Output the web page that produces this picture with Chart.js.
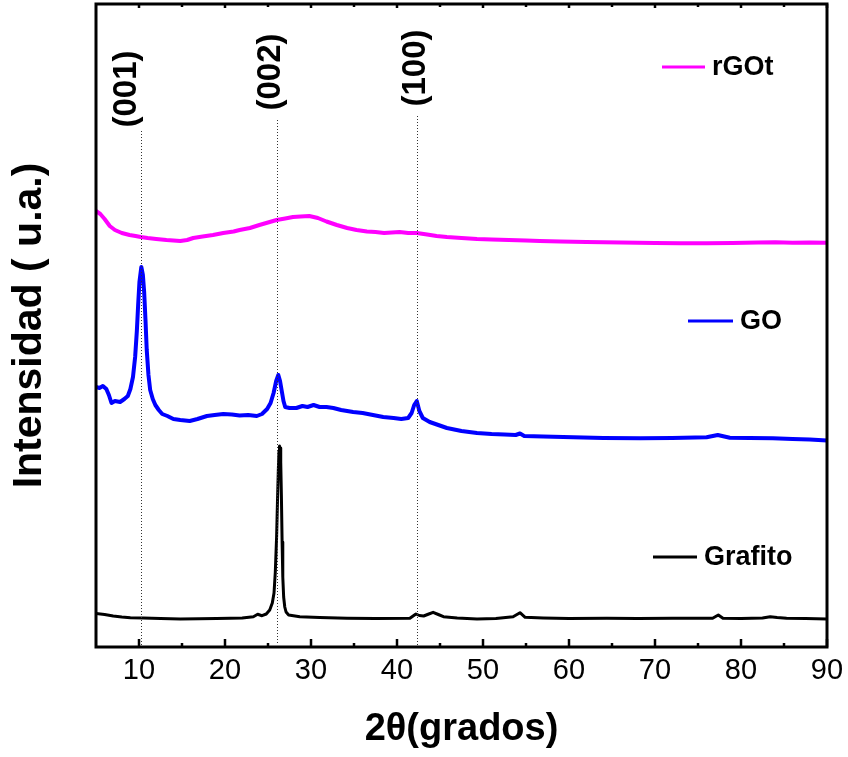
<!DOCTYPE html>
<html><head><meta charset="utf-8">
<script src="https://cdn.jsdelivr.net/npm/chart.js@4"></script>
<style>html,body{margin:0;padding:0;background:#fff}canvas{display:block}</style>
</head><body>
<canvas id="c" width="848" height="757"></canvas>
<script>
// ---------- data ----------
const X_TICKS = [10, 20, 30, 40, 50, 60, 70, 80, 90];
const X_MINOR = [15, 25, 35, 45, 55, 65, 75, 85];
const PEAK_LABELS = ['(001)', '(002)', '(100)'];
const PEAK_POS = [10.27, 26.05, 42.3];
const SERIES_NAMES = ['Grafito', 'GO', 'rGOt'];
const X_TITLE = '2θ(grados)';
const Y_TITLE = 'Intensidad ( u.a.)';

const grafitoX = [5.0, 6.0, 7.0, 8.0, 9.0, 10.5, 12.5, 14.8, 17.0, 19.0, 20.6, 22.0, 23.3, 23.8, 24.3, 24.8, 25.2, 25.5, 25.7, 25.85, 26.0, 26.1, 26.2, 26.28, 26.34, 26.4, 26.48, 26.56, 26.64, 26.72, 26.82, 26.95, 27.1, 27.4, 28.7, 31.0, 34.2, 37.5, 41.5, 42.2, 42.6, 43.1, 43.7, 44.2, 44.8, 45.4, 47.0, 49.3, 51.5, 53.5, 54.3, 54.9, 57.0, 60.0, 64.4, 68.0, 72.0, 76.7, 77.36, 77.9, 80.0, 82.5, 83.4, 84.2, 85.3, 87.5, 90.0];
const grafitoY = [33.5, 32.5, 31, 30, 29.3, 29, 28.5, 28, 28.3, 28.5, 28.7, 29, 30.3, 32.7, 31.3, 33, 37, 44, 54, 75, 110, 145, 177, 196, 201, 199, 185, 150, 105, 70, 50, 40, 35, 32, 30.3, 29.5, 28.7, 28.5, 28.7, 33, 31.5, 31, 33, 34.7, 32.5, 30.3, 29, 28, 28.5, 30.3, 34.3, 29.7, 29, 28.5, 28.7, 28.5, 28.7, 28.7, 32, 28.7, 28.5, 29, 30.3, 29.5, 28.7, 28.5, 28];

const goX = [5.0, 5.4, 5.8, 6.2, 6.5, 6.8, 7.2, 7.8, 8.3, 8.7, 9.0, 9.3, 9.55, 9.75, 9.9, 10.05, 10.27, 10.45, 10.6, 10.75, 10.9, 11.1, 11.3, 11.6, 11.9, 12.3, 12.7, 13.3, 14.0, 14.8, 15.9, 16.8, 17.9, 18.8, 19.8, 20.8, 21.7, 22.7, 23.7, 24.3, 24.9, 25.3, 25.65, 25.95, 26.2, 26.4, 26.6, 26.8, 27.0, 27.5, 28.3, 29.0, 29.6, 30.3, 31.0, 31.8, 32.6, 33.5, 34.9, 36.0, 37.2, 38.4, 39.6, 40.5, 41.3, 41.7, 42.0, 42.3, 42.6, 43.0, 43.8, 44.8, 45.8, 47.5, 49.3, 51.0, 52.5, 53.8, 54.3, 54.8, 57.0, 60.5, 64.0, 68.3, 72.0, 76.0, 77.3, 78.7, 81.0, 83.7, 86.0, 88.0, 90.0];
const goY = [260, 259, 261, 258, 252, 244, 246, 245, 248, 251, 258, 270, 290, 316, 342, 365, 380, 372, 355, 328, 297, 272, 257, 248, 242, 237, 233, 231, 228, 227, 226, 228, 231, 232, 233, 232.5, 231.5, 232, 231, 233, 238, 244, 254, 266, 272, 266, 256, 246, 240, 239, 239, 241, 240, 242, 240, 240, 239, 237, 235, 234, 232, 230, 229, 228, 229, 234, 242, 246, 236, 229, 225, 222, 219, 216, 214, 213, 212.5, 212, 213.5, 211, 210.5, 209.7, 209, 208.7, 209, 209.7, 212, 209.3, 209, 208.7, 208, 207.5, 206.5];

const rgoX = [5.0, 5.5, 6.0, 6.6, 7.2, 8.0, 8.9, 9.6, 10.2, 11.0, 12.0, 13.2, 14.0, 14.8, 15.6, 16.3, 17.4, 18.6, 19.8, 21.0, 21.7, 22.9, 24.0, 25.0, 26.0, 27.0, 27.9, 28.8, 29.8, 30.8, 31.8, 33.0, 34.2, 35.3, 36.5, 37.5, 38.5, 39.4, 40.3, 41.3, 42.3, 43.5, 44.6, 45.8, 47.5, 49.3, 51.0, 53.0, 55.0, 56.6, 59.0, 62.0, 66.0, 70.0, 73.0, 76.0, 79.0, 82.0, 84.0, 86.0, 88.0, 90.0];
const rgoY = [436, 433, 428, 421, 417, 414, 412, 411, 410, 409, 408, 407, 406.5, 406, 407, 409, 410.5, 412, 414, 415.5, 417, 419, 422, 424.5, 427, 428.5, 430, 430.5, 431, 429, 425.5, 422, 419, 417, 415.5, 415, 414, 414.5, 415, 414, 414, 412.5, 411, 410, 409, 408, 407.5, 407, 406.5, 406, 405.5, 405, 404.5, 404, 403.7, 403.7, 404, 404.5, 404.7, 404.3, 404.5, 404.3];

// ---------- style / layout ----------
const COLORS = ['#000000', '#0000ff', '#ff00ff'];
const WIDTHS = [3, 4, 4];
const FONT = '"Liberation Sans", Arial, Helvetica, sans-serif';
const LEGEND_LAYOUT = [{x1: 653, x2: 697, y: 557}, {x1: 688, x2: 733, y: 321}, {x1: 662, x2: 705, y: 67}];
const LABEL_LAYOUT = [{dx: -14, cy: 89, lineTop: 131}, {dx: -6, cy: 72, lineTop: 120}, {dx: -1, cy: 68, lineTop: 116}];

const toPts = (xs, ys) => xs.map((x, i) => ({x, y: ys[i]}));
const seriesData = [toPts(grafitoX, grafitoY), toPts(goX, goY), toPts(rgoX, rgoY)];

const decor = {
  id: 'decor',
  afterDatasetsDraw(chart) {
    const {ctx, chartArea: a, scales: {x}} = chart;
    ctx.save();
    ctx.strokeStyle = '#333';
    ctx.lineWidth = 1;
    ctx.setLineDash([1, 2]);
    PEAK_POS.forEach((p, i) => {
      const px = Math.round(x.getPixelForValue(p)) + 0.5;
      ctx.beginPath();
      ctx.moveTo(px, LABEL_LAYOUT[i].lineTop);
      ctx.lineTo(px, a.bottom - 2);
      ctx.stroke();
    });
    ctx.setLineDash([]);
    ctx.fillStyle = '#000';
    ctx.font = 'bold 33px ' + FONT;
    ctx.textAlign = 'center';
    ctx.textBaseline = 'middle';
    PEAK_LABELS.forEach((t, i) => {
      const px = x.getPixelForValue(PEAK_POS[i]) + LABEL_LAYOUT[i].dx;
      ctx.save();
      ctx.translate(px, LABEL_LAYOUT[i].cy);
      ctx.rotate(-Math.PI / 2);
      ctx.fillText(t, 0, 0);
      ctx.restore();
    });
    ctx.strokeStyle = '#000';
    ctx.lineWidth = 3;
    ctx.strokeRect(a.left, a.top, a.right - a.left, a.bottom - a.top);
    ctx.lineWidth = 2.5;
    const tick = (v, len, top) => {
      const px = x.getPixelForValue(v);
      ctx.beginPath();
      if (top) { ctx.moveTo(px, a.top); ctx.lineTo(px, a.top + len); }
      else { ctx.moveTo(px, a.bottom); ctx.lineTo(px, a.bottom - len); }
      ctx.stroke();
    };
    X_TICKS.forEach(v => { tick(v, 8, false); tick(v, 4, true); });
    X_MINOR.forEach(v => { tick(v, 4, false); tick(v, 3, true); });
    ctx.font = 'bold 27px ' + FONT;
    ctx.textAlign = 'left';
    ctx.textBaseline = 'middle';
    SERIES_NAMES.forEach((n, i) => {
      const L = LEGEND_LAYOUT[i];
      ctx.strokeStyle = COLORS[i];
      ctx.lineWidth = 3;
      ctx.beginPath();
      ctx.moveTo(L.x1, L.y);
      ctx.lineTo(L.x2, L.y);
      ctx.stroke();
      ctx.fillStyle = '#000';
      ctx.fillText(n, L.x2 + 7, L.y + 1);
    });
    ctx.restore();
  }
};

new Chart(document.getElementById('c'), {
  type: 'scatter',
  data: {
    datasets: SERIES_NAMES.map((n, i) => ({
      label: n,
      data: seriesData[i],
      showLine: true,
      borderColor: COLORS[i],
      backgroundColor: COLORS[i],
      borderWidth: WIDTHS[i],
      pointRadius: 0,
      tension: 0,
      borderJoinStyle: 'round',
      borderCapStyle: 'round'
    }))
  },
  options: {
    responsive: false,
    animation: false,
    layout: {padding: {top: 4, right: 21, left: 0, bottom: 0}},
    plugins: {legend: {display: false}, tooltip: {enabled: false}},
    scales: {
      x: {
        type: 'linear', min: 5, max: 90,
        afterBuildTicks: s => { s.ticks = X_TICKS.map(v => ({value: v})); },
        afterFit: s => { s.height = 110; s.paddingLeft = 0; s.paddingRight = 0; },
        grid: {display: false, drawTicks: false},
        border: {display: false},
        ticks: {color: '#000', padding: 7, font: {family: FONT, size: 29}},
        title: {display: true, text: X_TITLE, color: '#000', padding: {top: 0, bottom: 5}, font: {family: FONT, size: 38, weight: 'bold'}}
      },
      y: {
        type: 'linear', min: 0, max: 643,
        afterFit: s => { s.width = 96; s.paddingTop = 0; s.paddingBottom = 0; },
        grid: {display: false, drawTicks: false},
        border: {display: false},
        ticks: {display: false},
        title: {display: true, text: Y_TITLE, color: '#000', padding: {top: 5, bottom: 0}, font: {family: FONT, size: 41, weight: 'bold'}}
      }
    }
  },
  plugins: [decor]
});
</script>
</body></html>
